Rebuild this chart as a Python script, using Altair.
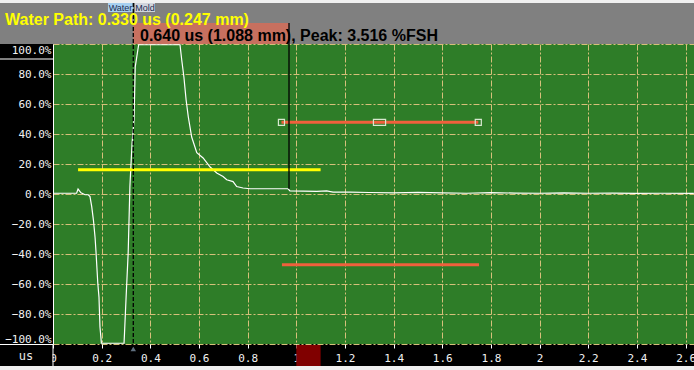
import altair as alt
import pandas as pd

# ---- data ----
t_us = [0.0, 0.070, 0.097, 0.103, 0.115, 0.132, 0.145, 0.152, 0.159, 0.166,
        0.173, 0.177, 0.184, 0.189, 0.193, 0.199, 0.292, 0.294, 0.300, 0.309,
        0.316, 0.325, 0.333, 0.338, 0.352, 0.522, 0.529, 0.538, 0.547, 0.556,
        0.570, 0.591, 0.617, 0.646, 0.673, 0.699, 0.714, 0.740, 0.755, 0.781,
        0.810, 0.966, 0.974, 1.084, 1.125, 1.151, 1.221, 1.30, 1.40, 1.50,
        1.60, 1.70, 1.80, 1.90, 2.00, 2.10, 2.20, 2.30, 2.40, 2.50, 2.634]
amp = [0.5, 0.5, 0.5, 3.3, 0.8, -0.5, -0.5, -1.7, -8.3, -17.2,
       -29.2, -39.2, -59.2, -68.8, -88.5, -99.5, -99.5, -92.5, -70.5, -39.2,
       4.8, 34, 49.5, 84.8, 99.5, 99.5, 89.5, 78, 62.8, 51.5,
       38, 27.5, 24, 18, 14, 11.7, 9.5, 8.3, 5, 4,
       3.5, 3.5, 2.1, 1.7, 2.1, 1.3, 1.3, 1.0, 0.8, 1.1,
       0.7, 0.5, 0.9, 0.6, 0.5, 0.8, 0.5, 0.6, 0.4, 0.5, 0.4]

x_ticks = [0, 0.2, 0.4, 0.6, 0.8, 1, 1.2, 1.4, 1.6, 1.8, 2, 2.2, 2.4, 2.6]
y_ticks = [-100, -80, -60, -40, -20, 0, 20, 40, 60, 80, 100]

water_path_us = 0.330
cursor_end_us = 0.970
peak_value = 3.5
header_yellow = "Water Path: 0.330 us (0.247 mm)"
header_black = "0.640 us (1.088 mm), Peak: 3.516 %FSH"

yellow_gate = {"t": [0.103], "t2": [1.100], "v": [16.1]}
red_gate_1 = {"t": [0.939], "t2": [1.748], "v": [47.8]}
red_gate_2 = {"t": [0.941], "t2": [1.751], "v": [-47.2]}
gate_handles_t = [0.939, 1.342, 1.748]
gate_handles_w = [0.025, 0.050, 0.025]
axis_marker = {"t": [1.0], "t2": [1.1]}

# ---- styling ----
W, H = 641, 300
GREEN = "#2e7d28"
GRID = "#d6c07a"
MONO = "DejaVu Sans Mono"
SANS = "Liberation Sans"

xs = alt.Scale(domain=[0, 2.6346], nice=False, zero=False)
ys = alt.Scale(domain=[-100, 100], nice=False, zero=False)

x_axis = alt.Axis(values=x_ticks, format="~g", grid=True, gridColor=GRID,
                  gridDash=[6, 2, 2, 2], gridWidth=1, domain=False,
                  ticks=True, tickColor="#ffffff", tickSize=4, tickWidth=1,
                  labelColor="#f2f2f2", labelFont=MONO, labelFontSize=11,
                  labelPadding=4, labelFlush=False, labelOverlap=False,
                  title=None)
y_axis = alt.Axis(values=y_ticks, labelExpr="format(datum.value, '.1f') + '%'",
                  grid=True, gridColor=GRID, gridDash=[6, 2, 2, 2], gridWidth=1,
                  domain=True, domainColor="#ffffff", domainWidth=1,
                  ticks=False, labelColor="#f2f2f2", labelFont=MONO,
                  labelFontSize=11, labelPadding=2, labelFlush=True,
                  labelOverlap=False, title=None)


def X(f="t"):
    return alt.X(f"{f}:Q", scale=xs, axis=x_axis, title=None)


def Y(f="v"):
    return alt.Y(f"{f}:Q", scale=ys, axis=y_axis, title=None)


one = alt.Data(values=[{"a": 1}])

# background bands outside the plot
top_band = alt.Chart(one).mark_rect(color="#808080").encode(
    x=alt.value(-53), x2=alt.value(W), y=alt.value(-41), y2=alt.value(0))
top_strip = alt.Chart(one).mark_rect(color="#f0f0f0").encode(
    x=alt.value(-53), x2=alt.value(W), y=alt.value(-44), y2=alt.value(-41))
bottom_strip = alt.Chart(one).mark_rect(color="#f0f0f0").encode(
    x=alt.value(-53), x2=alt.value(W), y=alt.value(322), y2=alt.value(326))
corner = alt.Chart(one).mark_rect(color="#000000").encode(
    x=alt.value(-53), x2=alt.value(-0.5), y=alt.value(300.5), y2=alt.value(322))
corner_line = alt.Chart(one).mark_rule(color="#ffffff", strokeWidth=1).encode(
    x=alt.value(0), y=alt.value(300), y2=alt.value(322))
sep1 = alt.Chart(one).mark_rule(color="#ffffff", strokeWidth=1).encode(
    x=alt.value(-53), x2=alt.value(0), y=alt.value(15))
sep2 = alt.Chart(one).mark_rule(color="#ffffff", strokeWidth=1).encode(
    x=alt.value(-53), x2=alt.value(0), y=alt.value(300.5))
us_label = alt.Chart(one).mark_text(text="us", font=MONO, fontSize=12,
                                    color="#e8e8e8", align="center",
                                    baseline="middle").encode(
    x=alt.value(-27), y=alt.value(312))

sig_df = pd.DataFrame({"t": t_us, "v": amp})
signal = alt.Chart(sig_df).mark_line(color="#ffffff", strokeWidth=1.2,
                                     interpolate="linear").encode(x=X(), y=Y())

yellow = alt.Chart(pd.DataFrame(yellow_gate)).mark_rule(
    color="#ffff00", strokeWidth=3).encode(x=X(), x2="t2:Q", y=Y())
red1 = alt.Chart(pd.DataFrame(red_gate_1)).mark_rule(
    color="#f0603c", strokeWidth=3).encode(x=X(), x2="t2:Q", y=Y())
red2 = alt.Chart(pd.DataFrame(red_gate_2)).mark_rule(
    color="#f0603c", strokeWidth=3).encode(x=X(), x2="t2:Q", y=Y())

h_df = pd.DataFrame({
    "t": [c - w / 2 for c, w in zip(gate_handles_t, gate_handles_w)],
    "t2": [c + w / 2 for c, w in zip(gate_handles_t, gate_handles_w)],
    "v": [red_gate_1["v"][0] + 2.0] * 3,
    "v2": [red_gate_1["v"][0] - 2.0] * 3,
})
handles = alt.Chart(h_df).mark_rect(fill=None, stroke="#d8e8d0",
                                    strokeWidth=1.2).encode(
    x=X(), x2="t2:Q", y=Y(), y2="v2:Q")

cur_df = pd.DataFrame({"t": [water_path_us], "t2": [cursor_end_us]})
salmon = alt.Chart(cur_df).mark_rect(color="#c7705f").encode(
    x=X(), x2="t2:Q", y=alt.value(-21), y2=alt.value(0))
tabs_df = pd.DataFrame({"t": [0.226, 0.337], "t2": [0.329, 0.419],
                        "name": ["Water", "Mold"],
                        "c": ["#a8d0f0", "#d0d4dc"]})
tabs = alt.Chart(tabs_df).mark_rect().encode(
    x=X(), x2="t2:Q", y=alt.value(-41), y2=alt.value(-32),
    color=alt.Color("c:N", scale=None))
tab_text = alt.Chart(tabs_df).mark_text(font=SANS, fontSize=9, color="#1c2c50",
                                        baseline="middle", align="center").encode(
    x=alt.X("mid:Q", scale=xs, axis=x_axis, title=None),
    y=alt.value(-36.5), text="name:N").transform_calculate(
    mid="(datum.t + datum.t2) / 2")

dash_line = alt.Chart(cur_df).mark_rule(color="#000000", strokeWidth=1.3,
                                        strokeDash=[4, 2]).encode(
    x=X(), y=alt.value(-41), y2=alt.value(300))
end_df = pd.DataFrame({"t": [cursor_end_us], "v": [114.0], "v2": [peak_value]})
end_line = alt.Chart(end_df).mark_rule(color="#000000", strokeWidth=1.3).encode(
    x=X(), y=Y(), y2="v2:Q")

txt_yellow = alt.Chart(one).mark_text(text=header_yellow, font=SANS, fontSize=16,
                                      fontWeight="bold", color="#ffff00",
                                      align="left", baseline="alphabetic").encode(
    x=alt.value(-48), y=alt.value(-19))
txt_black = alt.Chart(one).mark_text(text=header_black, font=SANS, fontSize=16,
                                     fontWeight="bold", color="#000000",
                                     align="left", baseline="alphabetic").encode(
    x=alt.value(87), y=alt.value(-3.5))

ax_df = pd.DataFrame(axis_marker)
ax_rect = alt.Chart(ax_df).mark_rect(color="#800000").encode(
    x=X(), x2="t2:Q", y=alt.value(301), y2=alt.value(322))
tri = alt.Chart(cur_df).mark_point(shape="triangle-up", filled=True,
                                   color="#607080", size=30, opacity=1).encode(
    x=X(), y=alt.value(305))

chart = alt.layer(
    top_band, top_strip, bottom_strip,
    signal, yellow, red1, red2, handles,
    salmon, tabs, tab_text, dash_line, end_line,
    txt_yellow, txt_black,
    ax_rect, tri, corner, corner_line, sep1, sep2, us_label,
).properties(
    width=W, height=H,
    autosize=alt.AutoSizeParams(type="none"),
    padding={"left": 53, "top": 44, "right": 0, "bottom": 26},
    background="#000000",
).configure_view(fill=GREEN, strokeWidth=0)

chart.save("out.html", embed_options={"renderer": "svg", "actions": False})
